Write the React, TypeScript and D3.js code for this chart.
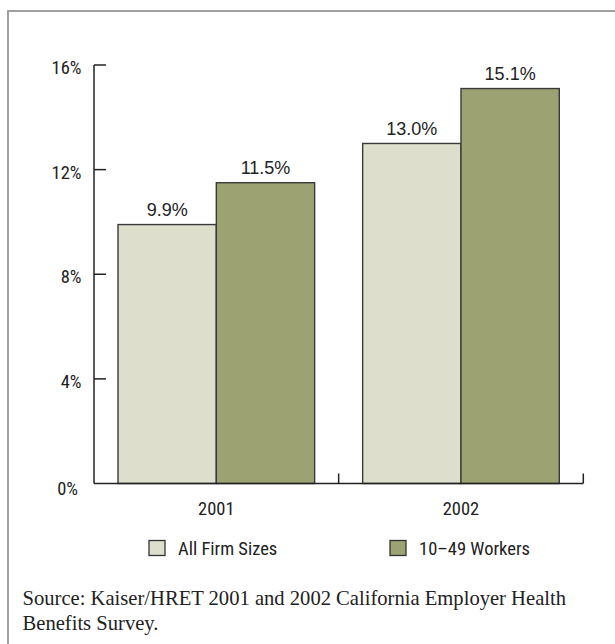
import React from "react";
import * as d3 from "d3";

const years = ["2001", "2002"];
const seriesNames = ["All Firm Sizes", "10–49 Workers"];
const allFirmSizes = [9.9, 13.0];
const workers10to49 = [11.5, 15.1];
const yTicks = [0, 4, 8, 12, 16];
const seriesColors = ["#DDDECC", "#9DA272"];
const sourceLines = [
  "Source: Kaiser/HRET 2001 and 2002 California Employer Health",
  "Benefits Survey.",
];

const W = 615;
const H = 644;
const condensed = "'Liberation Sans Narrow', 'Roboto Condensed', 'DejaVu Sans Condensed', 'Liberation Sans', Arial, sans-serif";
const sans = "'Liberation Sans', Arial, Helvetica, sans-serif";
const serif = "'Liberation Serif', 'DejaVu Serif', serif";

export default function App() {
  const x0 = d3.scaleBand<string>().domain(years).range([94, 583.3]).paddingInner(0).paddingOuter(0);
  const bw = x0.bandwidth();
  const x1 = d3.scaleBand<string>().domain(seriesNames).range([24, bw - 24]).padding(0);
  const y = d3.scaleLinear().domain([0, 16]).range([483.5, 65]);
  const values = [allFirmSizes, workers10to49];

  return (
    <svg width={W} height={H} style={{ position: "absolute", left: 0, top: 0, background: "#fff" }}>
      {/* frame */}
      <rect x={8} y={11} width={W + 20} height={H + 20} fill="none" stroke="#a0a0a0" strokeWidth={2} />

      {/* bars */}
      {years.map((yr, i) => (
        <g key={yr}>
          {seriesNames.map((s, j) => {
            const v = values[j][i];
            const bx = (x0(yr) as number) + (x1(s) as number);
            return (
              <g key={s}>
                <rect
                  x={bx}
                  y={y(v)}
                  width={x1.bandwidth()}
                  height={y(0) - y(v)}
                  fill={seriesColors[j]}
                  stroke="#3a3a3a"
                  strokeWidth={1.4}
                />
                <text
                  x={bx + x1.bandwidth() / 2}
                  y={y(v) - 8.5}
                  textAnchor="middle"
                  fontFamily={sans}
                  fontSize={18}
                  fill="#222"
                >
                  {v.toFixed(1) + "%"}
                </text>
              </g>
            );
          })}
          <text
            x={(x0(yr) as number) + bw / 2}
            y={515}
            textAnchor="middle"
            fontFamily={condensed}
            fontSize={18.5}
            fill="#222"
          >
            {yr}
          </text>
        </g>
      ))}

      {/* y axis */}
      <line x1={94} x2={94} y1={y(16)} y2={y(0)} stroke="#222" strokeWidth={1.5} />
      {yTicks.map((t) => (
        <g key={t}>
          {t > 0 && <line x1={94} x2={106} y1={y(t)} y2={y(t)} stroke="#222" strokeWidth={1.5} />}
          <text
            x={t === 0 ? 78 : 81.5}
            y={y(t) + (t === 0 ? 11 : 9)}
            textAnchor="end"
            fontFamily={condensed}
            fontSize={18.5}
            fill="#222"
          >
            {t + "%"}
          </text>
        </g>
      ))}

      {/* x axis */}
      <line x1={94} x2={583.3} y1={y(0)} y2={y(0)} stroke="#222" strokeWidth={1.5} />
      {years.map((yr) => (
        <line
          key={yr}
          x1={(x0(yr) as number) + bw}
          x2={(x0(yr) as number) + bw}
          y1={y(0)}
          y2={y(0) - 10}
          stroke="#222"
          strokeWidth={1.5}
        />
      ))}

      {/* legend */}
      {seriesNames.map((s, j) => {
        const lx = j === 0 ? 149 : 390;
        return (
          <g key={s}>
            <rect x={lx} y={540.5} width={16} height={15} fill={seriesColors[j]} stroke="#333" strokeWidth={1.3} />
            <text x={lx + 29} y={555} fontFamily={condensed} fontSize={18.5} fill="#222">
              {s}
            </text>
          </g>
        );
      })}

      {/* source */}
      {sourceLines.map((l, i) => (
        <text key={i} x={22.5} y={605 + i * 24.5} fontFamily={serif} fontSize={20.6} fill="#222">
          {l}
        </text>
      ))}
    </svg>
  );
}
